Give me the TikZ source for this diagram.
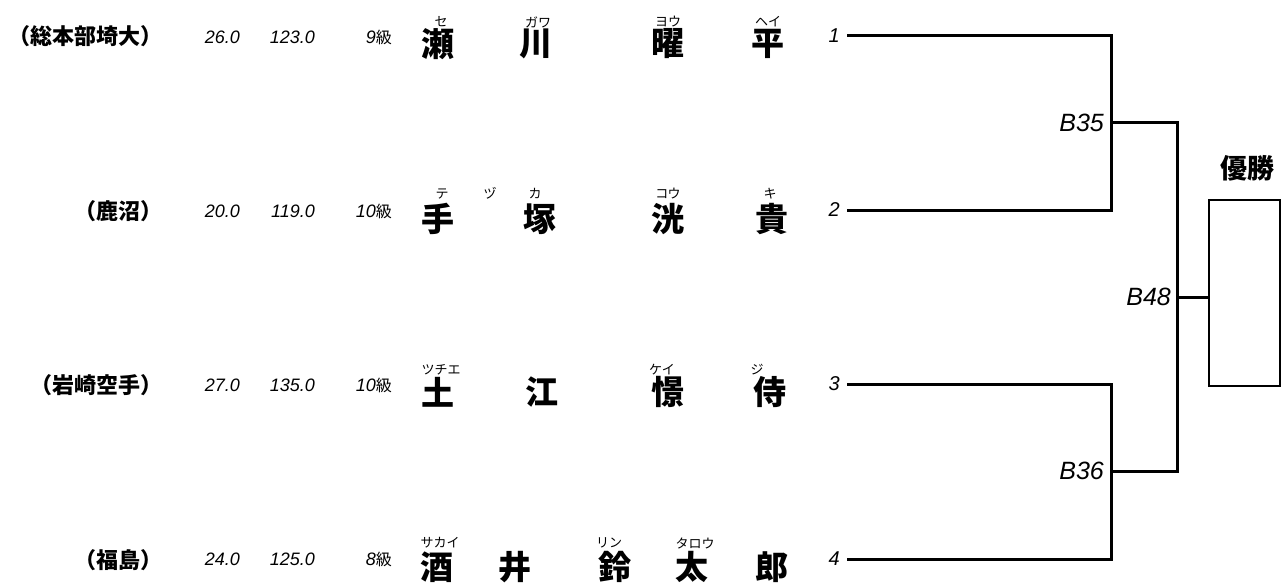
\documentclass[tikz,border=0pt]{standalone}
\usepackage{fontspec}
\setmainfont{Liberation Sans}
\newfontfamily\jp{Noto Sans CJK JP}
\newcommand{\kyu}{{\jp\upshape\fontsize{16}{16}\selectfont 級}}
\tikzset{
  team/.style={anchor=east, inner sep=0pt, font=\jp\bfseries\fontsize{22}{22}\selectfont},
  num/.style={anchor=east, inner sep=0pt, font=\itshape\fontsize{18}{18}\selectfont},
  pname/.style={inner sep=0pt, font=\jp\bfseries\fontsize{33}{33}\selectfont},
  ruby/.style={inner sep=0pt, font=\jp\fontsize{13}{13}\selectfont},
  seed/.style={anchor=east, inner sep=0pt, font=\itshape\fontsize{20}{20}\selectfont},
  match/.style={anchor=east, inner sep=0pt, font=\itshape\fontsize{25}{25}\selectfont},
  bline/.style={line width=3pt, line join=miter},
  winbox/.style={draw, line width=1.5pt, minimum width=71pt, minimum height=186pt, inner sep=0pt}
}
\begin{document}
\begin{tikzpicture}[x=1pt, y=-1pt]
\useasboundingbox (0,0) rectangle (1282,583);
% ---- row 1
\node[team] (t1) at (163,36) {（総本部埼大）};
\node[num] (w1) at (240,37) {26.0};
\node[num] (h1) at (315,37) {123.0};
\node[num] (g1) at (392,37) {9\kyu};
\node[ruby] (r1a) at (441,22) {セ};
\node[ruby] (r1b) at (538,22) {ガワ};
\node[ruby] (r1c) at (668,22) {ヨウ};
\node[ruby] (r1d) at (768,22) {ヘイ};
\node[pname] (k1a) at (438,44) {瀬};
\node[pname] (k1b) at (536,44) {川};
\node[pname] (k1c) at (668,44) {曜};
\node[pname] (k1d) at (768,44) {平};
\node[seed] (n1) at (840,36) {1};
% ---- row 2
\node[team] (t2) at (163,211) {（鹿沼）};
\node[num] (w2) at (240,211) {20.0};
\node[num] (h2) at (315,211) {119.0};
\node[num] (g2) at (392,211) {10\kyu};
\node[ruby] (r2a) at (442,194) {テ};
\node[ruby] (r2b) at (490,193) {ヅ};
\node[ruby] (r2c) at (535,194) {カ};
\node[ruby] (r2d) at (668,194) {コウ};
\node[ruby] (r2e) at (770,194) {キ};
\node[pname] (k2a) at (438,219) {手};
\node[pname] (k2b) at (540,219) {塚};
\node[pname] (k2c) at (668,219) {洸};
\node[pname] (k2d) at (772,219) {貴};
\node[seed] (n2) at (840,210) {2};
% ---- row 3
\node[team] (t3) at (163,385) {（岩崎空手）};
\node[num] (w3) at (240,385) {27.0};
\node[num] (h3) at (315,385) {135.0};
\node[num] (g3) at (392,385) {10\kyu};
\node[ruby] (r3a) at (441,370) {ツチエ};
\node[ruby] (r3b) at (662,370) {ケイ};
\node[ruby] (r3c) at (757,370) {ジ};
\node[pname] (k3a) at (438,392) {土};
\node[pname] (k3b) at (542,392) {江};
\node[pname] (k3c) at (668,392) {憬};
\node[pname] (k3d) at (770,392) {侍};
\node[seed] (n3) at (840,384) {3};
% ---- row 4
\node[team] (t4) at (163,560) {（福島）};
\node[num] (w4) at (240,559) {24.0};
\node[num] (h4) at (315,559) {125.0};
\node[num] (g4) at (392,559) {8\kyu};
\node[ruby] (r4a) at (440,543) {サカイ};
\node[ruby] (r4b) at (609,543) {リン};
\node[ruby] (r4c) at (695,543) {タロウ};
\node[pname] (k4a) at (437,567) {酒};
\node[pname] (k4b) at (515,567) {井};
\node[pname] (k4c) at (615,567) {鈴};
\node[pname] (k4d) at (692,567) {太};
\node[pname] (k4e) at (772,567) {郎};
\node[seed] (n4) at (840,559) {4};
% ---- bracket
\coordinate (s1) at (847,36);
\coordinate (s2) at (847,210);
\coordinate (s3) at (847,384);
\coordinate (s4) at (847,559);
\coordinate (m35) at (1111,123);
\coordinate (m36) at (1111,471);
\coordinate (m48) at (1177,297);
\node[winbox] (win) at (1244.5,293) {};
\node[inner sep=0pt, font=\jp\bfseries\fontsize{27}{27}\selectfont] (yusho) at (1247,168) {優勝};
\draw[bline] (s1) -| (m35) |- (s2);
\draw[bline] (s3) -| (m36) |- (s4);
\draw[bline] (m35) -| (m48) |- (m36);
\draw[bline] (m48) -- (m48 -| win.west);
\node[match] (b35) at (1104,123) {B35};
\node[match] (b36) at (1104,471) {B36};
\node[match] (b48) at (1171,297) {B48};
\end{tikzpicture}
\end{document}
